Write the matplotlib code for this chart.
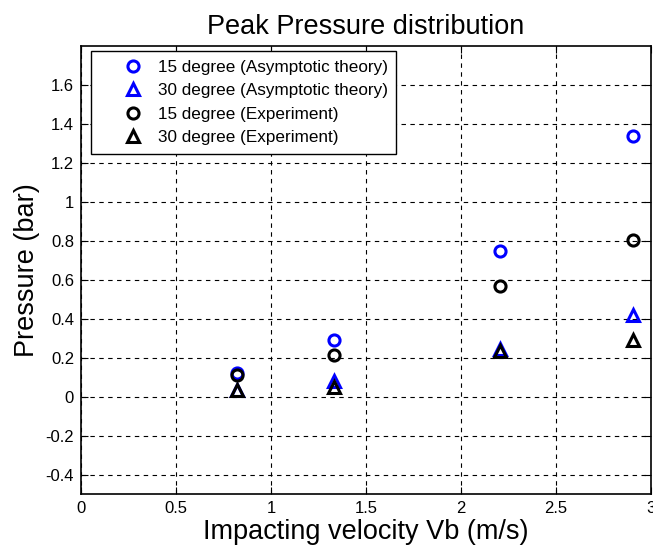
import matplotlib
matplotlib.use("Agg")
from matplotlib import pyplot as plt

# impact velocities (m/s)
vb = [0.82, 1.33, 2.205, 2.905]

# peak pressures (bar)
theory_15 = [0.12, 0.29, 0.75, 1.34]
theory_30 = [0.035, 0.08, 0.245, 0.42]
exp_15 = [0.11, 0.215, 0.57, 0.805]
exp_30 = [0.035, 0.05, 0.235, 0.29]

plt.rcParams['font.family'] = ['Arial', 'Liberation Sans', 'DejaVu Sans']

fig = plt.figure(figsize=(6.53, 5.55), dpi=100)
ax = fig.add_axes([81 / 653, 61 / 555, 570 / 653, 448 / 555])

mk = dict(linestyle='none', markersize=8, markeredgewidth=2.2, markerfacecolor='none')
ax.plot(vb, theory_15, marker='o', color='blue', label='15 degree (Asymptotic theory)', **mk)
ax.plot(vb, theory_30, marker='^', color='blue', label='30 degree (Asymptotic theory)', **mk)
ax.plot(vb, exp_15, marker='o', color='black', label='15 degree (Experiment)', **mk)
ax.plot(vb, exp_30, marker='^', color='black', label='30 degree (Experiment)', **mk)

ax.set_xlim(0, 3)
ax.set_ylim(-0.5, 1.8)
ax.set_xticks([0, 0.5, 1, 1.5, 2, 2.5, 3])
ax.set_xticklabels(['0', '0.5', '1', '1.5', '2', '2.5', '3'])
ax.set_yticks([-0.4, -0.2, 0, 0.2, 0.4, 0.6, 0.8, 1, 1.2, 1.4, 1.6])
ax.set_yticklabels(['-0.4', '-0.2', '0', '0.2', '0.4', '0.6', '0.8', '1', '1.2', '1.4', '1.6'])
ax.tick_params(direction='in', labelsize=12, length=5, top=True, right=True, pad=5)
ax.grid(True, color='black', linestyle=(0, (4, 4)), linewidth=0.8)
for s in ax.spines.values():
    s.set_linewidth(1.2)

ax.set_title('Peak Pressure distribution', fontsize=19.5, pad=9)
ax.set_xlabel('Impacting velocity Vb (m/s)', fontsize=19.5, labelpad=2)
ax.set_ylabel('Pressure (bar)', fontsize=19.5, labelpad=4)

leg = ax.legend(loc='upper left', bbox_to_anchor=(10 / 570, 1 - 5 / 448), borderaxespad=0,
                fontsize=12.3, fancybox=False, framealpha=1, edgecolor='black',
                borderpad=0.5, handlelength=3.9, handletextpad=-0.5, labelspacing=0.5,
                numpoints=1)
leg.get_frame().set_linewidth(1.0)

fig.savefig('out.png', dpi=100)
